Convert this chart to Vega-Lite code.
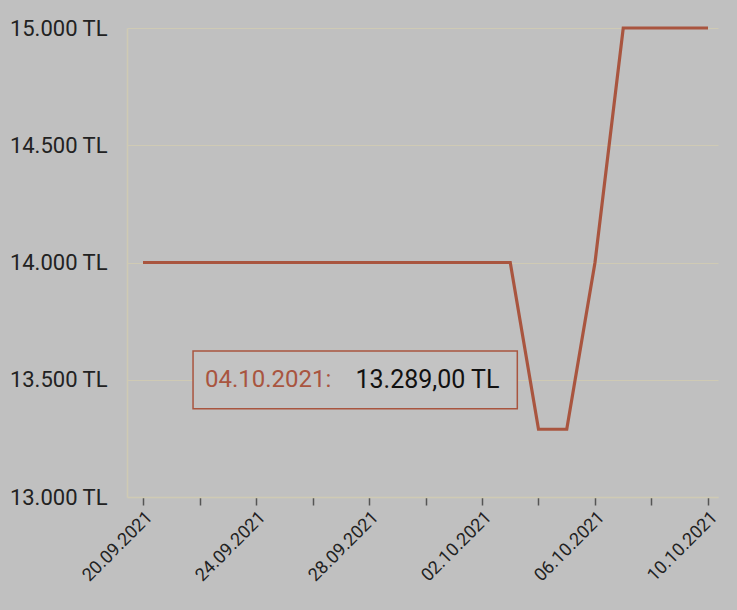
{
  "$schema": "https://vega.github.io/schema/vega-lite/v6.json",
  "autosize": "none",
  "width": 591,
  "height": 469,
  "padding": {"left": 127, "top": 28, "right": 19, "bottom": 113},
  "background": "#c0c0c0",
  "config": {
    "view": {"stroke": null},
    "font": "Roboto"
  },
  "datasets": {
    "prices": [
      {"date": "2021-09-20", "price": 14000},
      {"date": "2021-09-21", "price": 14000},
      {"date": "2021-09-22", "price": 14000},
      {"date": "2021-09-23", "price": 14000},
      {"date": "2021-09-24", "price": 14000},
      {"date": "2021-09-25", "price": 14000},
      {"date": "2021-09-26", "price": 14000},
      {"date": "2021-09-27", "price": 14000},
      {"date": "2021-09-28", "price": 14000},
      {"date": "2021-09-29", "price": 14000},
      {"date": "2021-09-30", "price": 14000},
      {"date": "2021-10-01", "price": 14000},
      {"date": "2021-10-02", "price": 14000},
      {"date": "2021-10-03", "price": 14000},
      {"date": "2021-10-04", "price": 13289},
      {"date": "2021-10-05", "price": 13289},
      {"date": "2021-10-06", "price": 14000},
      {"date": "2021-10-07", "price": 15000},
      {"date": "2021-10-08", "price": 15000},
      {"date": "2021-10-09", "price": 15000},
      {"date": "2021-10-10", "price": 15000}
    ],
    "note": [
      {"start": "2021-09-21T18:30", "end": "2021-10-03T06:00", "low": 13376, "high": 13623,
       "dateX": "2021-09-22T04:40", "valueX": "2021-09-27T12:30", "mid": 13500,
       "dateText": "04.10.2021:", "valueText": "13.289,00 TL"}
    ]
  },
  "layer": [
    {
      "data": {"name": "prices"},
      "mark": {"type": "line", "color": "#a9553f", "strokeWidth": 3.2, "strokeJoin": "miter"},
      "encoding": {
        "x": {
          "field": "date",
          "type": "temporal",
          "scale": {"type": "utc", "domain": ["2021-09-19T10:24", "2021-10-10T08:30"]},
          "axis": {
            "title": null,
            "values": ["2021-09-20", "2021-09-22", "2021-09-24", "2021-09-26", "2021-09-28", "2021-09-30", "2021-10-02", "2021-10-04", "2021-10-06", "2021-10-08", "2021-10-10"],
            "labelExpr": "indexof(['20.09.2021','24.09.2021','28.09.2021','02.10.2021','06.10.2021','10.10.2021'], utcFormat(datum.value, '%d.%m.%Y')) >= 0 ? utcFormat(datum.value, '%d.%m.%Y') : ''",
            "labelAngle": -45,
            "labelFontSize": 18,
            "labelColor": "#222222",
            "labelPadding": 3,
            "grid": false,
            "domainColor": "#cfcab4",
            "domainWidth": 1.5,
            "tickColor": "#555555",
            "tickSize": 8,
            "tickWidth": 1.5,
            "tickOffset": 0
          }
        },
        "y": {
          "field": "price",
          "type": "quantitative",
          "scale": {"domain": [13000, 15000]},
          "axis": {
            "title": null,
            "values": [13000, 13500, 14000, 14500, 15000],
            "labelExpr": "replace(format(datum.value, ','), ',', '.') + ' TL'",
            "labelFontSize": 22,
            "labelColor": "#222222",
            "labelPadding": 20,
            "ticks": false,
            "grid": true,
            "gridColor": "#cfcab4",
            "gridWidth": 1,
            "domainColor": "#cfcab4",
            "domainWidth": 1.5
          }
        }
      }
    },
    {
      "data": {"name": "note"},
      "mark": {"type": "rect", "fill": "#c3c3c3", "stroke": "#a9553f", "strokeWidth": 1.5},
      "encoding": {
        "x": {"field": "start", "type": "temporal"},
        "x2": {"field": "end"},
        "y": {"field": "low", "type": "quantitative"},
        "y2": {"field": "high"}
      }
    },
    {
      "data": {"name": "note"},
      "mark": {"type": "text", "align": "left", "baseline": "middle", "fontSize": 24, "color": "#a9553f"},
      "encoding": {
        "x": {"field": "dateX", "type": "temporal"},
        "y": {"field": "mid", "type": "quantitative"},
        "text": {"field": "dateText"}
      }
    },
    {
      "data": {"name": "note"},
      "mark": {"type": "text", "align": "left", "baseline": "middle", "fontSize": 25, "color": "#111111"},
      "encoding": {
        "x": {"field": "valueX", "type": "temporal"},
        "y": {"field": "mid", "type": "quantitative"},
        "text": {"field": "valueText"}
      }
    }
  ]
}
